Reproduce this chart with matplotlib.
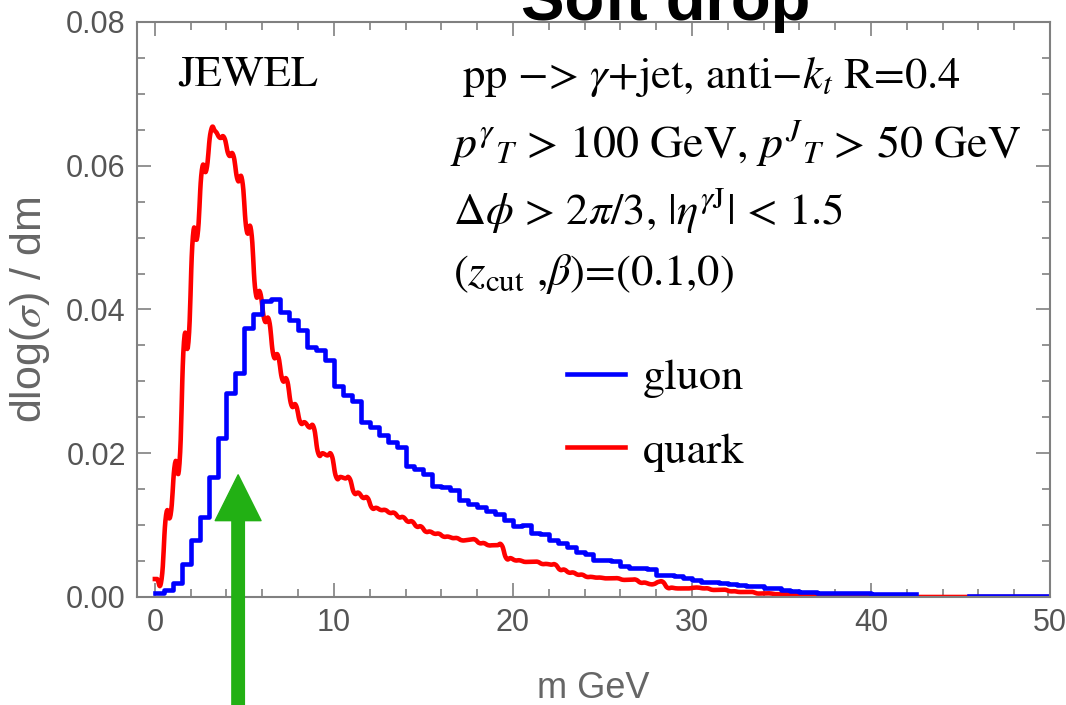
import numpy as np
import matplotlib
matplotlib.use("Agg")
from matplotlib import pyplot as plt
from matplotlib.ticker import MultipleLocator
import matplotlib.transforms as mtransforms

# bin edges: 0..50 GeV in 0.5 GeV bins
edges = np.arange(0, 50.5, 0.5)

gluon = [0.0005, 0.0010, 0.0019, 0.0046, 0.0079, 0.0111, 0.0167, 0.0221, 0.0284, 0.0312,
         0.0374, 0.0394, 0.0412, 0.0415, 0.0397, 0.0386, 0.0371, 0.0348, 0.0344, 0.0330,
         0.0294, 0.0281, 0.0273, 0.0243, 0.0236, 0.0225, 0.0215, 0.0209, 0.0182, 0.0178,
         0.0171, 0.0154, 0.0153, 0.0149, 0.0135, 0.0129, 0.0125, 0.0120, 0.0116, 0.0107,
         0.0099, 0.0100, 0.0089, 0.0088, 0.0079, 0.0075, 0.0069, 0.0063, 0.0060, 0.0052,
         0.0052, 0.0050, 0.0043, 0.0041, 0.0040, 0.0039, 0.0031, 0.0030, 0.0029, 0.0026,
         0.0024, 0.0021, 0.0021, 0.0020, 0.0018, 0.0016, 0.0015, 0.0015, 0.0012, 0.0012,
         0.0010, 0.0009, 0.0007, 0.0007, 0.0006, 0.0006, 0.0005, 0.0005, 0.0005, 0.0005,
         0.0004, 0.0004, 0.0004, 0.0004, 0.0004, np.nan, np.nan, np.nan, np.nan, np.nan,
         np.nan, 0.0001, 0.0001, 0.0001, 0.0001, 0.0001, 0.0001, 0.0001, 0.0001, 0.0001]

quark = [0.0025, 0.0114, 0.0186, 0.0355, 0.0502, 0.0594, 0.0648, 0.0639, 0.0615, 0.0580,
         0.0510, 0.0424, 0.0385, 0.0336, 0.0302, 0.0267, 0.0243, 0.0236, 0.0200, 0.0197,
         0.0167, 0.0165, 0.0145, 0.0138, 0.0124, 0.0121, 0.0117, 0.0111, 0.0105, 0.0098,
         0.0091, 0.0088, 0.0084, 0.0082, 0.0079, 0.0080, 0.0075, 0.0072, 0.0072, 0.0054,
         0.0051, 0.0049, 0.0049, 0.0046, 0.0045, 0.0038, 0.0034, 0.0031, 0.0028, 0.0027,
         0.0026, 0.0026, 0.0024, 0.0024, 0.0020, 0.0018, 0.0021, 0.0013, 0.0012, 0.0012,
         0.0013, 0.0012, 0.0010, 0.0010, 0.0008, 0.0007, 0.0007, 0.0005, 0.0005, 0.0004,
         0.0004, 0.0004, 0.0003, 0.0003, 0.0002, 0.0002, 0.0001, 0.0001, 0.0001, 0.0001,
         0, 0, 0, 0, 0, 0, 0, 0, 0, 0,
         0, 0, 0, 0, 0, 0, 0, 0, 0, 0]

assert len(gluon) == len(edges) - 1 and len(quark) == len(edges) - 1


def smooth_steps(edges, vals, n=10, s=0.75):
    # cardinal spline through a staircase (two knots per bin) -> wiggly curve
    px, py = [], []
    for i, v in enumerate(vals):
        px += [edges[i] + 0.125, edges[i] + 0.375]
        py += [v, v]
    px = np.array([edges[0]] + px)
    py = np.array([py[0]] + py)
    P = np.column_stack([px, py])
    P = np.vstack([P[0], P, P[-1]])
    t = np.linspace(0, 1, n)[:, None]
    h00 = 2 * t ** 3 - 3 * t ** 2 + 1
    h10 = t ** 3 - 2 * t ** 2 + t
    h01 = -2 * t ** 3 + 3 * t ** 2
    h11 = t ** 3 - t ** 2
    out = []
    for i in range(1, len(P) - 2):
        m1 = s * (P[i + 1] - P[i - 1])
        m2 = s * (P[i + 2] - P[i])
        seg = h00 * P[i] + h10 * m1 + h01 * P[i + 1] + h11 * m2
        out.append(seg[:-1])
    out.append(P[-2][None, :])
    out = np.vstack(out)
    return out[:, 0], out[:, 1]


plt.rcParams['mathtext.fontset'] = 'stix'
grey = '#808080'
tickgrey = '#555555'
sans = 'Liberation Sans'
serif = 'STIXGeneral'

fig = plt.figure(figsize=(10.66, 7.05), dpi=100)
ax = fig.add_axes([0.1285, 0.1532, 0.8565, 0.8156])

qx, qy = smooth_steps(edges, quark)
ax.plot(qx, qy, color=(1, 0, 0), lw=3.3, label='quark')
gx = np.append(edges[:-1], edges[-1])
gy = np.append(gluon, gluon[-1])
ax.step(gx, gy, where='post', color=(0, 0, 1), lw=3.3, label='gluon')

ax.set_xlim(-1, 50)
ax.set_ylim(0, 0.08)
ax.xaxis.set_major_locator(MultipleLocator(10))
ax.xaxis.set_minor_locator(MultipleLocator(2))
ax.yaxis.set_major_locator(MultipleLocator(0.02))
ax.yaxis.set_minor_locator(MultipleLocator(0.005))
ax.yaxis.set_major_formatter(matplotlib.ticker.FormatStrFormatter('%.2f'))
ax.tick_params(which='both', direction='in', top=True, right=True, color=grey, width=1.2,
               labelcolor=tickgrey, labelsize=22, pad=8)
ax.tick_params(which='major', length=10)
ax.tick_params(which='minor', length=6)
for lab in ax.get_xticklabels() + ax.get_yticklabels():
    lab.set_family(sans)
for s in ax.spines.values():
    s.set_color(grey)
    s.set_linewidth(1.5)

ax.set_xlabel('m GeV', fontsize=26, color='#666666', family=sans, labelpad=24)
ax.set_ylabel(r'dlog($\sigma$) / dm', fontsize=31, color='#666666', family=sans, labelpad=10)

ax.text(0.045, 0.890, 'JEWEL', transform=ax.transAxes, fontsize=32, family=serif, va='baseline')
ax.text(0.356, 0.885, 'pp \u2212> $\\gamma$+jet, anti\u2212$k_t$ R=0.4', transform=ax.transAxes,
        fontsize=32, family=serif, va='baseline')
ax.text(0.343, 0.765, r'$p^{\gamma}{}_{T}$ > 100 GeV, $p^{J}{}_{T}$ > 50 GeV', transform=ax.transAxes,
        fontsize=33, family=serif, va='baseline')
ax.text(0.346, 0.647, r'$\Delta\phi$ > 2$\pi$/3, |$\eta^{\gamma\mathrm{J}}$| < 1.5', transform=ax.transAxes,
        fontsize=32, family=serif, va='baseline')
ax.text(0.346, 0.5426, r'($z_{\mathrm{cut}}$ ,$\beta$)=(0.1,0)', transform=ax.transAxes,
        fontsize=32, family=serif, va='baseline')

h, l = ax.get_legend_handles_labels()
ax.legend([h[1], h[0]], [l[1], l[0]], loc='upper left', bbox_to_anchor=(0.471, 0.415), frameon=False,
          prop={'family': serif, 'size': 32}, handlelength=1.3, handletextpad=0.4, labelspacing=0.75,
          borderpad=0, borderaxespad=0)

# green arrow from bottom edge of the figure
trans = mtransforms.blended_transform_factory(ax.transData, fig.transFigure)
ax.annotate('', xy=(4.65, 0.017), xycoords='data', xytext=(4.65, 0.0), textcoords=trans,
            arrowprops=dict(color='#22b014', width=9, headwidth=33, headlength=33, shrink=0),
            annotation_clip=False)

fig.text(666 / 1066, 1 - 20 / 705, 'Soft drop', fontsize=47, weight='bold', ha='center', va='baseline',
         family=sans)

fig.savefig('out.png', dpi=100)
